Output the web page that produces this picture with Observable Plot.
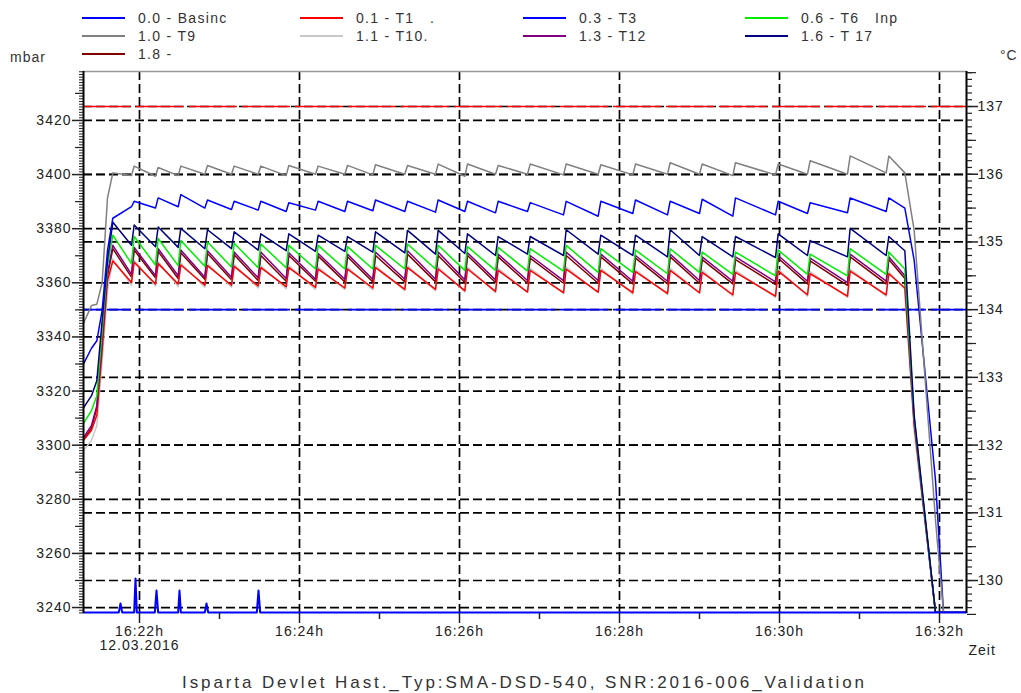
<!DOCTYPE html>
<html><head><meta charset="utf-8">
<script src="https://cdn.jsdelivr.net/npm/d3@7"></script>
<script src="https://cdn.jsdelivr.net/npm/@observablehq/plot@0.6"></script>
<style>
body{margin:0;background:#fff;font-family:"Liberation Sans",Arial,sans-serif;}
#wrap{position:relative;width:1021px;height:693px;overflow:hidden;background:#fff}
#header{position:relative;height:62px}
.item{position:absolute;height:16px;width:220px}
.item .sw{position:absolute;left:0;top:7px;width:43px;height:2px}
.item .lb{position:absolute;left:56px;top:0;white-space:pre;font-size:14px;letter-spacing:1.3px;color:#333;line-height:16px}
.unit{position:absolute;font-size:14px;letter-spacing:1px;color:#333;line-height:16px}
#title{height:20px;text-align:center;font-size:17px;letter-spacing:2.9px;line-height:20px;color:#333;padding-left:28px}
svg text{letter-spacing:1px}
</style></head>
<body><div id="wrap"><div id="header"></div><div id="chart"></div><div id="title"></div></div>
<script>
// ---- Legend ----
const legendLabels = ["0.0 - Basinc","0.1 - T1   .","0.3 - T3","0.6 - T6   Inp","1.0 - T9","1.1 - T10.","1.3 - T12","1.6 - T 17","1.8 -"];
const legendColors = ["#0000ff","#ff0000","#0000ff","#00ee00","#808080","#c8c8c8","#800080","#000080","#800000"];
const titleText = "Isparta Devlet Hast._Typ:SMA-DSD-540, SNR:2016-006_Validation";
const dateLabel = "12.03.2016";

// ---- Time grid: seconds after 16:21:00 ----
const secs = [18,24,28,32,36,
 40,54, 56,72, 74,89, 91,109, 111,129, 131,149, 151,170, 172,192, 194,214, 216,235,
 237,259, 261,282, 284,304, 306,327, 329,351, 353,378, 380,404, 406,430, 432,456, 458,480,
 482,505, 507,537, 539,561, 563,591, 593,620, 622,634,
 641,657,663,680];

// ---- Temperatures (°C) ----
const t17 = [132.55,132.73,132.95,133.84,134.73,
 135.29,134.95, 135.25,134.93, 135.22,134.92, 135.2,134.9, 135.18,134.9, 135.15,134.88, 135.12,134.87, 135.12,134.86, 135.1,134.86, 135.08,134.85,
 135.15,134.84, 135.17,134.82, 135.17,134.83, 135.12,134.8, 135.08,134.82, 135.08,134.8, 135.18,134.82, 135.1,134.8, 135.1,134.78, 135.18,134.8,
 135.08,134.78, 135.08,134.77, 135.12,134.8, 135.02,134.78, 135.2,134.8, 135.08,134.87,
 132.44,129.53,129.53,129.53];
const t6 = [132.32,132.51,132.73,133.69,134.65,
 135.1,134.68, 135.08,134.66, 135.05,134.65, 135.02,134.64, 135.0,134.63, 134.98,134.62, 134.97,134.62, 134.95,134.6, 134.95,134.6, 134.93,134.6,
 134.95,134.6, 134.97,134.6, 134.95,134.58, 134.93,134.58, 134.92,134.57, 134.9,134.57, 134.95,134.55, 134.9,134.55, 134.88,134.53, 134.9,134.55,
 134.85,134.52, 134.85,134.5, 134.88,134.52, 134.82,134.5, 134.9,134.52, 134.85,134.6,
 132.4,129.53,129.53,129.53];
const t12 = [132.11,132.29,132.58,133.54,134.55,
 134.95,134.52, 134.92,134.5, 134.9,134.5, 134.88,134.48, 134.87,134.48, 134.85,134.47, 134.85,134.46, 134.84,134.45, 134.83,134.45, 134.82,134.45,
 134.85,134.45, 134.87,134.45, 134.85,134.44, 134.84,134.44, 134.82,134.43, 134.8,134.43, 134.85,134.43, 134.82,134.42, 134.8,134.42, 134.82,134.43,
 134.78,134.42, 134.78,134.41, 134.8,134.42, 134.76,134.4, 134.82,134.42, 134.78,134.5,
 132.35,129.53,129.53,129.53];
const t1 = [132.07,132.22,132.44,133.4,134.43,
 134.72,134.4, 134.7,134.38, 134.68,134.38, 134.66,134.36, 134.65,134.36, 134.64,134.35, 134.62,134.34, 134.62,134.33, 134.6,134.32, 134.6,134.32,
 134.62,134.3, 134.62,134.3, 134.6,134.28, 134.6,134.27, 134.58,134.26, 134.58,134.25, 134.6,134.26, 134.58,134.25, 134.56,134.24, 134.58,134.25,
 134.55,134.22, 134.55,134.2, 134.57,134.22, 134.53,134.2, 134.57,134.22, 134.53,134.32,
 132.3,129.53,129.53,129.53];
const t10 = [131.92,132.07,132.29,133.25,134.28,
 134.75,134.36, 134.73,134.35, 134.71,134.34, 134.69,134.33, 134.68,134.33, 134.67,134.32, 134.65,134.31, 134.65,134.3, 134.63,134.3, 134.63,134.29,
 134.65,134.28, 134.65,134.28, 134.63,134.26, 134.63,134.25, 134.61,134.26, 134.61,134.24, 134.63,134.25, 134.61,134.23, 134.59,134.22, 134.61,134.24,
 134.58,134.2, 134.58,134.18, 134.6,134.2, 134.56,134.18, 134.6,134.2, 134.56,134.3,
 132.2,129.53,129.53,129.53];
const t18 = [132.08,132.25,132.55,133.5,134.5,
 134.9,134.48, 134.88,134.47, 134.86,134.46, 134.84,134.45, 134.83,134.44, 134.81,134.43, 134.8,134.42, 134.8,134.42, 134.79,134.41, 134.78,134.41,
 134.8,134.41, 134.82,134.41, 134.8,134.4, 134.8,134.4, 134.78,134.39, 134.76,134.39, 134.8,134.39, 134.78,134.38, 134.76,134.38, 134.78,134.39,
 134.74,134.38, 134.74,134.37, 134.76,134.38, 134.72,134.36, 134.78,134.38, 134.74,134.46,
 132.32,129.53,129.53,129.53];
const t3 = [133.2,133.43,133.54,133.99,134.87,
 135.35,135.52, 135.6,135.5, 135.65,135.52, 135.7,135.5, 135.62,135.48, 135.6,135.47, 135.6,135.45, 135.58,135.47, 135.6,135.45, 135.6,135.46,
 135.62,135.45, 135.6,135.44, 135.62,135.45, 135.6,135.43, 135.6,135.45, 135.58,135.4, 135.6,135.38, 135.6,135.42, 135.62,135.4, 135.6,135.42,
 135.63,135.38, 135.65,135.4, 135.6,135.42, 135.58,135.43, 135.65,135.45, 135.65,135.5,
 134.73,131.48,129.53,129.53];
const t9 = [133.8,134.06,134.08,134.4,135.65,
 136.02,135.98, 136.12,135.97, 136.1,135.98, 136.12,136.0, 136.13,136.0, 136.12,136.0, 136.12,135.98, 136.13,136.0, 136.12,136.0, 136.13,135.99,
 136.14,136.0, 136.13,136.0, 136.15,135.97, 136.15,136.0, 136.13,136.0, 136.15,135.99, 136.15,136.0, 136.14,135.99, 136.15,136.0, 136.17,136.0,
 136.15,135.98, 136.17,135.99, 136.15,136.0, 136.2,136.0, 136.27,136.02, 136.27,136.02,
 135.17,130.89,129.53,129.53];

// ---- Pressure (mbar) ----
const basincSecs = [18,44.5,45.75,47,56,57,58,71.5,72.75,74,89,90,91,109,110.25,111.5,148,149.25,150.5,680];
const basincMbar = [3238.2,3238.2,3241.5,3238.2,3238.2,3250.7,3238.2,3238.2,3246.3,3238.2,3238.2,3246.3,3238.2,3238.2,3241.5,3238.2,3238.2,3246.3,3238.2,3238.2];

// ---- Limit lines (°C) ----
const limitValues = [137, 134];
const limitColors = ["#ff0000", "#0000ff"];

// ---- Axis ticks ----
const mbarTicks = [3240,3260,3280,3300,3320,3340,3360,3380,3400,3420];
const celsiusTicks = [130,131,132,133,134,135,136,137];
const timeTickSecs = [60,180,300,420,540,660];      // 16:22 ... 16:32
const timeMinorSecs = [120,240,360,480,600];        // odd minutes

// ---- Scales / helpers ----
const t0 = Date.UTC(2016,2,12,16,21,0);
const toDate = s => new Date(t0 + s*1000);
const mbarToC = d3.scaleLinear([3240,3420],[129.601,136.794]);
const xDomain = [toDate(18), toDate(680.25)];
const yDomain = [129.513, 137.517];

const rows = (vals, ss) => vals.map((v,i) => ({t: toDate(ss[i]), v}));
const series = [
  {v: t18, c: legendColors[8]},
  {v: t10, c: legendColors[5]},
  {v: t1,  c: legendColors[1]},
  {v: t12, c: legendColors[6]},
  {v: t6,  c: legendColors[3]},
  {v: t17, c: legendColors[7]},
  {v: t3,  c: legendColors[2]},
  {v: t9,  c: legendColors[4]}
];
const basincRows = basincMbar.map((m,i) => ({t: toDate(basincSecs[i]), v: mbarToC(m)}));

const leftC = mbarTicks.map(mbarToC);
const leftMinor = d3.range(3238, 3439, 1).map(d => mbarToC(d));
const leftMid = d3.range(3250, 3439, 20).map(d => mbarToC(d));
const rightMinor = d3.range(1296, 1376, 1).map(d => d/10);
const rightMid = d3.range(1295, 1376, 10).map(d => d/10);
const majorTimes = timeTickSecs.map(toDate);
const minorTimes = timeMinorSecs.map(toDate);
const fmtTime = d3.utcFormat("%H:%M");
const dash = "9,4";

// ---- Header (legend) ----
const header = document.getElementById("header");
const colX = [82, 300, 523, 745], rowY = [10, 28, 46];
legendLabels.forEach((lab, i) => {
  const it = document.createElement("div");
  it.className = "item";
  it.style.left = colX[i % 4] + "px";
  it.style.top = rowY[Math.floor(i / 4)] + "px";
  it.innerHTML = `<div class="sw" style="background:${legendColors[i]}"></div><div class="lb"></div>`;
  it.querySelector(".lb").textContent = lab;
  header.appendChild(it);
});
const u1 = document.createElement("div"); u1.className = "unit"; u1.textContent = "mbar"; u1.style.left = "10px"; u1.style.top = "49px"; header.appendChild(u1);
const u2 = document.createElement("div"); u2.className = "unit"; u2.textContent = "°C"; u2.style.left = "1000px"; u2.style.top = "47px"; header.appendChild(u2);
document.getElementById("title").textContent = titleText;

// ---- Plot ----
const gridOpts = {stroke: "#000", strokeOpacity: 1, strokeWidth: 1.7, strokeDasharray: dash};
const chart = Plot.plot({
  width: 1021, height: 611,
  marginTop: 9, marginBottom: 60, marginLeft: 83, marginRight: 55,
  style: {fontFamily: "'Liberation Sans', Arial, sans-serif", fontSize: "14px", background: "white", color: "#222", overflow: "visible"},
  x: {type: "utc", domain: xDomain},
  y: {domain: yDomain},
  marks: [
    Plot.gridX(majorTimes, gridOpts),
    Plot.gridY(leftC, gridOpts),
    Plot.gridY(celsiusTicks, gridOpts),
    Plot.ruleY(limitValues, {y: d => d, stroke: (d, i) => limitColors[i], strokeWidth: 1.7, strokeDasharray: "48,5"}),
    ...series.map(s => Plot.line(rows(s.v, secs), {x: "t", y: "v", stroke: s.c, strokeWidth: 1.5})),
    Plot.line(basincRows, {x: "t", y: "v", stroke: legendColors[0], strokeWidth: 2}),
    Plot.ruleY([yDomain[1]], {stroke: "#999", strokeWidth: 1.5}),
    Plot.ruleX([xDomain[0]], {stroke: "#000", strokeWidth: 2}),
    Plot.ruleX([xDomain[1]], {stroke: "#000", strokeWidth: 2}),
    Plot.axisX(majorTimes, {tickSize: 10, tickPadding: 3, strokeWidth: 1.5, label: null,
      tickFormat: d => +d === +majorTimes[0] ? fmtTime(d) + "h\n" + dateLabel : fmtTime(d) + "h"}),
    Plot.axisX(minorTimes, {tickSize: 6, strokeWidth: 1.5, fill: "none", label: null}),
    Plot.axisY(leftMinor, {anchor: "left", tickSize: 4, strokeWidth: 1, fill: "none", label: null}),
    Plot.axisY(leftMid, {anchor: "left", tickSize: 8, strokeWidth: 1.2, fill: "none", label: null}),
    Plot.axisY(leftC, {anchor: "left", tickSize: 11, tickPadding: 1, strokeWidth: 1.5, label: null,
      tickFormat: d => String(Math.round(mbarToC.invert(d)))}),
    Plot.axisY(rightMinor, {anchor: "right", tickSize: 5, strokeWidth: 1.2, fill: "none", label: null}),
    Plot.axisY(rightMid, {anchor: "right", tickSize: 9, strokeWidth: 1.2, fill: "none", label: null}),
    Plot.axisY(celsiusTicks, {anchor: "right", tickSize: 11, tickPadding: 0, strokeWidth: 1.5, label: null,
      tickFormat: d => String(d)}),
    Plot.text(["Zeit"], {frameAnchor: "bottom-right", textAnchor: "start", lineAnchor: "middle", dx: 2, dy: 37, fill: "#222"})
  ]
});
document.getElementById("chart").appendChild(chart);
</script></body></html>
